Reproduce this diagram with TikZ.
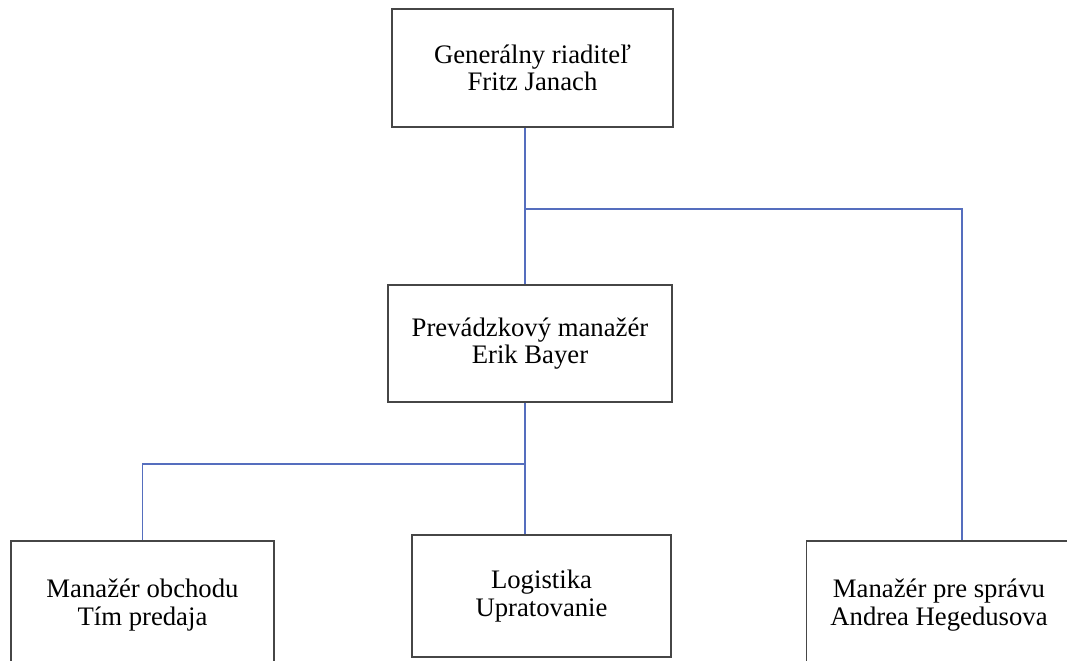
\documentclass[tikz,border=0pt]{standalone}
\usepackage{fontspec}
\setmainfont{Liberation Serif}
\usetikzlibrary{positioning}
\definecolor{boxgray}{RGB}{70,70,70}
\definecolor{linkblue}{RGB}{85,110,190}
\tikzset{every picture/.style={line width=0.75pt}}
\tikzset{
  box/.style={draw=boxgray, line width=0.7pt, align=center, inner sep=0pt,
    font=\fontsize{15.2}{15.6}\selectfont},
  link/.style={draw=linkblue, line width=0.8pt}
}

\begin{document}
\begin{tikzpicture}[x=0.02cm, y=-0.02cm]
\useasboundingbox (0,0) rectangle (1067,660);
\clip (0,0) rectangle (1067,660);
\node[box, minimum width=5.62cm, minimum height=2.36cm] (ceo) at (532.5,68) {Generálny riaditeľ\\Fritz Janach};
\node[box, minimum width=5.68cm, minimum height=2.34cm] (ops) at (530,343.5) {Prevádzkový manažér\\Erik Bayer};
\node[box, minimum width=5.26cm, minimum height=2.56cm] (sales) at (142.5,605) {Manažér obchodu\\Tím predaja};
\node[box, minimum width=5.18cm, minimum height=2.44cm] (logi) at (541.5,596) {Logistika\\Upratovanie};
\node[box, minimum width=5.3cm, minimum height=2.56cm] (admin) at (939,605) {Manažér pre správu\\Andrea Hegedusova};
\coordinate (j1) at (525,209);
\coordinate (j2) at (525,464);
\coordinate (j3) at (962,209);
\draw[link] (ceo.south -| j1) -- (j1) -- (ops.north -| j1);
\draw[link] (j1) -- (j3) -- (admin.north -| j3);
\draw[link] (ops.south -| j2) -- (j2) -- (logi.north -| j2);
\draw[link] (j2) -| (sales.north);
\end{tikzpicture}
\end{document}
